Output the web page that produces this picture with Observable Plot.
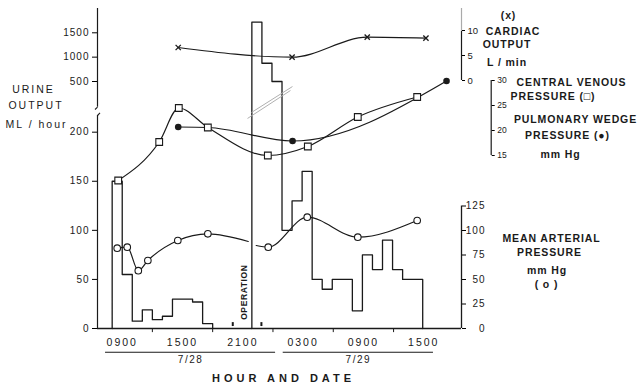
<!DOCTYPE html>
<html>
<head>
<meta charset="utf-8">
<script src="https://cdn.jsdelivr.net/npm/d3@7"></script>
<script src="https://cdn.jsdelivr.net/npm/@observablehq/plot@0.6"></script>
<style>
  html, body { margin: 0; background: #fff; }
  #chart { position: relative; width: 639px; height: 387px; overflow: hidden; background: #fff; }
  #chart svg { position: absolute; left: 0; top: 0; overflow: visible; background: transparent; }
  #chart text { fill: #1a1a1a; }
  .L-urine g[aria-label="y-axis tick label"] text { font-size: 10px; letter-spacing: 1px; }
  .L-urine g[aria-label="x-axis tick label"] text { font-size: 10.5px; letter-spacing: 2px; }
  .L-co g[aria-label="y-axis tick label"] text { font-size: 9.5px; }
  .L-cvp g[aria-label="y-axis tick label"] text { font-size: 8.5px; }
  .L-map g[aria-label="y-axis tick label"] text { font-size: 10px; letter-spacing: 1px; }
  .ls-title-left text { letter-spacing: 2px; }
  .ls-legend text { letter-spacing: 0.9px; }
  .ls-xtitle text { letter-spacing: 4px; }
  .ls-op text { letter-spacing: 0.6px; }
  .ls-date text { letter-spacing: 1.5px; }
</style>
</head>
<body>
<div id="chart"></div>
<script>
// ---------------- DATA (time = hours from 00:00 on 7/28) ----------------
// Hourly urine output (ML/hour), step histogram
const urineDay1Start = [8, 9, 10, 11, 12, 13, 14, 15, 16, 17];
const urineDay1Value = [150, 55, 7.5, 19, 9, 12.5, 30, 30, 27, 5];
const urineDay1End = 18;
const urineDay2Start = [21.9, 22.9, 23.9, 24.9, 25.9, 26.9, 27.9, 28.9, 29.9, 30.9, 31.9, 32.9, 33.9, 34.9, 35.9, 36.9, 37.9];
const urineDay2Value = [1720, 875, 500, 100, 130, 160, 50, 40, 50, 50, 18, 75, 60, 90, 60, 50, 50];
const urineDay2End = 38.9;

// Cardiac output (L/min)
const coTime = [14.57, 25.9, 33.38, 39.22];
const coValue = [6.6, 4.66, 8.66, 8.46];

// Central venous pressure (mmHg, open squares)
const cvpTime = [8.6, 12.68, 14.63, 17.52, 23.49, 27.47, 32.44, 38.35];
const cvpValue = [10, 17.7, 24.5, 20.6, 15, 16.8, 22.7, 26.7];

// Pulmonary wedge pressure (mmHg, filled circles)
const pwpTime = [14.57, 17.52, 25.95, 41.27];
const pwpValue = [20.7, 20.6, 17.9, 29.9];
const pwpMarked = [true, false, true, true];

// Mean arterial pressure (mmHg, open circles), before and after the operation
const mapTimeBefore = [8.5, 9.5, 10.6, 11.55, 14.53, 17.52, 21.54];
const mapValueBefore = [82, 83, 59, 69.4, 89.8, 96.6, 88.8];
const mapMarkedBefore = [true, true, true, true, true, true, false];
const mapTimeAfter = [22.33, 23.53, 27.41, 32.44, 38.35];
const mapValueAfter = [84.7, 83, 113.6, 93.2, 110.2];
const mapMarkedAfter = [false, true, true, true, true];

// Axis ticks and labels
const urineTicks = [0, 50, 100, 150, 200, 500, 1000, 1500];
const coTicks = [0, 5, 10];
const cvpTicks = [15, 20, 25, 30];
const mapTicks = [0, 25, 50, 75, 100, 125];
const hourLabelTimes = [9, 15, 21, 27, 33, 39];
const hourLabels = ["0900", "1500", "2100", "0300", "0900", "1500"];
const hourTickTimes = [12, 18, 24, 30, 36];
const dateLabels = ["7/28", "7/29"];
const dateFrom = [7.34, 25.02];
const dateTo = [24.26, 39.97];
const markerTimes = [20.0, 22.85];
const operationLabelTime = 21.17;

// ---------------- LAYOUT ----------------
const W = 639, H = 387;
const xDomain = [6.54, 42.76], xRange = [97, 461];
const tAt = px => xDomain[0] + (px - xRange[0]) * (xDomain[1] - xDomain[0]) / (xRange[1] - xRange[0]);
const ink = "#1a1a1a";
const FONT = "'Liberation Sans', Arial, sans-serif";
const baseStyle = {fontFamily: FONT, fontSize: "10px", background: "transparent", overflow: "visible"};

// adds a CSS class to a mark's group (used for letter-spacing)
const tag = cls => function (index, scales, values, dimensions, context, next) {
  const g = next(index, scales, values, dimensions, context);
  if (g && g.classList) g.classList.add(cls);
  return g;
};

const stepPoints = (starts, values, end) =>
  [{t: starts[0], v: 0}, ...starts.map((t, i) => ({t, v: values[i]})), {t: end, v: 0}];
const zip = (ts, vs, ms) => ts.map((t, i) => ({t, v: vs[i], marked: ms ? ms[i] : true}));

const day1 = stepPoints(urineDay1Start, urineDay1Value, urineDay1End);
const day2 = stepPoints(urineDay2Start, urineDay2Value, urineDay2End);
const co = zip(coTime, coValue);
const cvp = zip(cvpTime, cvpValue);
const pwp = zip(pwpTime, pwpValue, pwpMarked);
const mapBefore = zip(mapTimeBefore, mapValueBefore, mapMarkedBefore);
const mapAfter = zip(mapTimeAfter, mapValueAfter, mapMarkedAfter);
const dates = dateLabels.map((label, i) => ({label, from: dateFrom[i], to: dateTo[i]}));

// broken left axis: lower segment 0..217, upper segment from the break to the top
const axisSegments = [{from: 0, to: 217}, {from: 286, to: 1999}];
const axisHooks = [
  {x1: xDomain[0], y1: 217, x2: xDomain[0] + 0.25, y2: 238},
  {x1: xDomain[0], y1: 286, x2: xDomain[0] - 0.25, y2: 267}
];
const breakMarks = [
  {x1: 21.47, y1: 214, x2: 25.74, y2: 425},
  {x1: 21.86, y1: 242, x2: 25.94, y2: 458}
];

const labelStyle = {
  "title-left": {fontSize: 10.5, fontWeight: "normal"},
  "legend": {fontSize: 10.5, fontWeight: "bold"},
  "xtitle": {fontSize: 11, fontWeight: "bold"}
};
const labels = [
  {text: "URINE", x: 33, y: 89.5, cls: "title-left"},
  {text: "OUTPUT", x: 35.5, y: 105.5, cls: "title-left"},
  {text: "ML / hour", x: 36, y: 124, cls: "title-left"},
  {text: "(x)", x: 508, y: 15, cls: "legend"},
  {text: "CARDIAC", x: 512.5, y: 31, cls: "legend"},
  {text: "OUTPUT", x: 506.5, y: 44.5, cls: "legend"},
  {text: "L / min", x: 506.5, y: 62, cls: "legend"},
  {text: "CENTRAL VENOUS", x: 571, y: 82, cls: "legend"},
  {text: "PRESSURE (\u25A1)", x: 552.5, y: 96.5, cls: "legend"},
  {text: "PULMONARY WEDGE", x: 575, y: 119.5, cls: "legend"},
  {text: "PRESSURE (\u25CF)", x: 567, y: 135, cls: "legend"},
  {text: "mm Hg", x: 560, y: 154.5, cls: "legend"},
  {text: "MEAN ARTERIAL", x: 551, y: 238, cls: "legend"},
  {text: "PRESSURE", x: 549, y: 252.5, cls: "legend"},
  {text: "mm Hg", x: 546.5, y: 270, cls: "legend"},
  {text: "( o )", x: 546, y: 284.5, cls: "legend"},
  {text: "HOUR AND DATE", x: 283, y: 378, cls: "xtitle"}
];
const labelMark = d => Plot.text([d.text], {
  frameAnchor: "top-left", dx: d.x - 97, dy: d.y - 8,
  textAnchor: "middle", lineAnchor: "middle",
  fontSize: labelStyle[d.cls].fontSize, fontWeight: labelStyle[d.cls].fontWeight,
  render: tag("ls-" + d.cls)
});

// ---------------- LAYER 1: urine output + axes + text ----------------
const urinePlot = Plot.plot({
  width: W, height: H, marginTop: 8, marginBottom: 59, marginLeft: 97, marginRight: 178,
  style: baseStyle,
  x: {domain: xDomain, range: xRange},
  y: {type: "linear", domain: [0, 217, 500, 1500], range: [328, 115, 81, 32.3]},
  marks: [
    Plot.ruleY([0], {stroke: ink, strokeWidth: 1.4}),
    Plot.ruleX(axisSegments, {x: () => xDomain[0], y1: "from", y2: "to", stroke: ink, strokeWidth: 1.2}),
    Plot.link(axisHooks, {x1: "x1", y1: "y1", x2: "x2", y2: "y2", stroke: ink, strokeWidth: 1.1}),
    Plot.axisY({anchor: "left", ticks: urineTicks, tickSize: 5, tickPadding: 3, label: null, tickFormat: d => String(d)}),
    Plot.axisX({anchor: "bottom", ticks: hourLabelTimes, tickSize: 0, tickPadding: 10, label: null,
      tickFormat: d => hourLabels[hourLabelTimes.indexOf(d)]}),
    Plot.ruleX(hourTickTimes, {y1: 0, y2: -4.2, stroke: ink}),
    Plot.ruleY(dates, {x1: "from", x2: "to", y: 0, dy: 23.7, stroke: ink, strokeWidth: 1.1}),
    Plot.text(dates, {x: d => (d.from + d.to) / 2, y: 0, dy: 31, text: "label", fontSize: 10, render: tag("ls-date")}),
    Plot.line(day1, {x: "t", y: "v", curve: "step-after", stroke: ink, strokeWidth: 1.3}),
    Plot.line(day2, {x: "t", y: "v", curve: "step-after", stroke: ink, strokeWidth: 1.3}),
    Plot.link(breakMarks, {x1: "x1", y1: "y1", x2: "x2", y2: "y2", stroke: "#b0b0b0", strokeWidth: 1}),
    Plot.ruleX(markerTimes, {y1: 2, y2: 6, stroke: ink, strokeWidth: 2}),
    Plot.text(["OPERATION"], {x: operationLabelTime, y: 37, rotate: -90, fontSize: 8.5, fontWeight: "bold", render: tag("ls-op")}),
    ...labels.map(labelMark)
  ]
});
urinePlot.classList.add("L-urine");

// ---------------- LAYER 2: cardiac output ----------------
const coPlot = Plot.plot({
  width: W, height: H, marginTop: 8, marginBottom: 59, marginLeft: 97, marginRight: 178,
  style: baseStyle,
  x: {domain: xDomain, range: xRange, axis: null},
  y: {domain: [0, 10], range: [80, 30]},
  marks: [
    Plot.ruleX([{from: 0, to: 9.8}], {x: () => xDomain[1], y1: "from", y2: "to", stroke: ink, strokeWidth: 1.2}),
    Plot.ruleX([{from: 9.8, to: 14.4}], {x: () => xDomain[1], y1: "from", y2: "to", stroke: "#aaa", strokeWidth: 1.2}),
    Plot.axisY({anchor: "right", ticks: coTicks, tickSize: 3, tickPadding: 3, label: null}),
    Plot.line(co, {x: "t", y: "v", curve: "monotone-x", stroke: ink, strokeWidth: 1.2}),
    Plot.dot(co, {x: "t", y: "v", symbol: "times", r: 2.5, stroke: ink, strokeWidth: 1.3})
  ]
});
coPlot.classList.add("L-co");

// ---------------- LAYER 3: CVP and PWP ----------------
const cvpPlot = Plot.plot({
  width: W, height: H, marginTop: 8, marginBottom: 59, marginLeft: 97, marginRight: W - 490.7,
  style: baseStyle,
  x: {domain: xDomain, range: xRange, axis: null},
  y: {domain: [15, 30], range: [155, 80]},
  marks: [
    Plot.ruleX([{from: 15, to: 30}], {x: () => tAt(490.7), y1: "from", y2: "to", stroke: ink, strokeWidth: 1.2}),
    Plot.axisY({anchor: "right", ticks: cvpTicks, tickSize: 3, tickPadding: 3, label: null}),
    Plot.line(pwp, {x: "t", y: "v", curve: "monotone-x", stroke: ink, strokeWidth: 1.2}),
    Plot.line(cvp, {x: "t", y: "v", curve: "monotone-x", stroke: ink, strokeWidth: 1.2}),
    Plot.dot(pwp.filter(d => d.marked), {x: "t", y: "v", r: 3.3, fill: ink}),
    Plot.dot(cvp, {x: "t", y: "v", symbol: "square", r: 3.8, fill: "white", stroke: ink, strokeWidth: 1.1})
  ]
});
cvpPlot.classList.add("L-cvp");

// ---------------- LAYER 4: mean arterial pressure ----------------
const mapPlot = Plot.plot({
  width: W, height: H, marginTop: 8, marginBottom: 59, marginLeft: 97, marginRight: 178,
  style: baseStyle,
  x: {domain: xDomain, range: xRange, axis: null},
  y: {domain: [0, 125], range: [328, 205.5]},
  marks: [
    Plot.ruleX([{from: 0, to: 125}], {x: () => xDomain[1], y1: "from", y2: "to", stroke: ink, strokeWidth: 1.3}),
    Plot.axisY({anchor: "right", ticks: mapTicks, tickSize: 4, tickPadding: 20, textAnchor: "end", label: null}),
    Plot.line(mapBefore, {x: "t", y: "v", curve: "monotone-x", stroke: ink, strokeWidth: 1.2}),
    Plot.line(mapAfter, {x: "t", y: "v", curve: "monotone-x", stroke: ink, strokeWidth: 1.2}),
    Plot.dot([...mapBefore, ...mapAfter].filter(d => d.marked), {x: "t", y: "v", r: 3.3, fill: "white", stroke: ink, strokeWidth: 1.1})
  ]
});
mapPlot.classList.add("L-map");

const chart = document.getElementById("chart");
[urinePlot, coPlot, cvpPlot, mapPlot].forEach(s => chart.appendChild(s));
</script>
</body>
</html>
